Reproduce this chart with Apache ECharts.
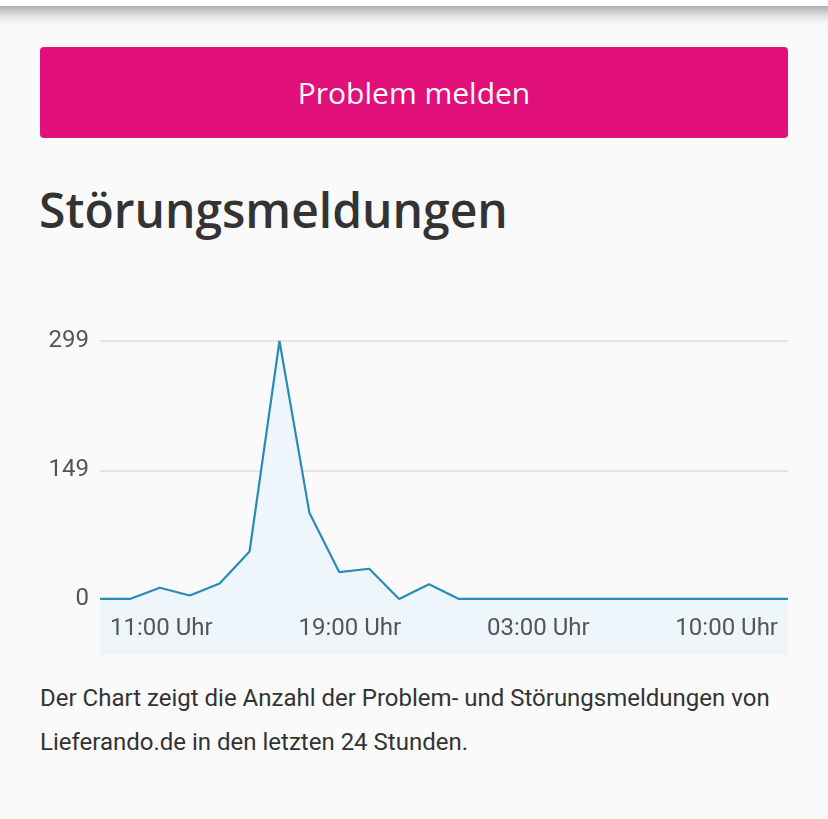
<!DOCTYPE html>
<html><head><meta charset="utf-8">
<script src="https://cdn.jsdelivr.net/npm/echarts@6/dist/echarts.min.js"></script>
<style>
html,body{margin:0;padding:0;background:#fafafa;width:828px;height:819px;overflow:hidden;position:relative;font-family:Roboto,"Noto Sans",sans-serif;}
#hdr{position:absolute;left:-20px;top:-30px;width:868px;height:36px;background:#fff;box-shadow:0 5px 16px rgba(0,0,0,0.4);}
#btn{position:absolute;left:40px;top:47px;width:748px;height:91px;background:#e1107a;border-radius:4px;color:#fff;font-family:"Open Sans",sans-serif;font-size:30px;line-height:91px;text-align:center;}
#ttl{position:absolute;left:39px;top:178px;margin:0;font-family:"Open Sans",sans-serif;font-weight:600;font-size:48px;line-height:64px;color:#333;}
#chart{position:absolute;left:0;top:300px;width:828px;height:370px;}
#cap{position:absolute;left:40px;top:676px;width:780px;font-size:24px;line-height:44px;color:#333;}
</style></head>
<body>
<div id="hdr"></div>
<div id="btn">Problem melden</div>
<h1 id="ttl">Störungsmeldungen</h1>
<div id="chart"></div>
<div id="cap">Der Chart zeigt die Anzahl der Problem- und Störungsmeldungen von<br>Lieferando.de in den letzten 24 Stunden.</div>
<script>
// 24 hourly report counts
const reports = [0, 0, 13, 4, 18, 55, 299, 100, 31, 35, 0, 17, 0, 0, 0, 0, 0, 0, 0, 0, 0, 0, 0, 0];
// x-axis tick labels and where they sit along the 24-point index scale
const xTickLabels = ['11:00 Uhr', '19:00 Uhr', '03:00 Uhr', '10:00 Uhr'];
const xTickAt = [2.05, 8.35, 14.65, 20.95];
// y-axis tick values
const yTicks = [0, 149, 299];

const chart = echarts.init(document.getElementById('chart'));
chart.setOption({
  animation: false,
  grid: {left: 100, right: 40, top: 41, bottom: 15},
  xAxis: {
    type: 'value', min: 0, max: reports.length - 1, z: 10,
    axisLine: {show: false}, axisTick: {show: false}, splitLine: {show: false},
    axisLabel: {
      inside: true, margin: 14, color: '#555', fontSize: 24, fontFamily: 'Roboto',
      customValues: xTickAt, hideOverlap: false,
      formatter: v => { const i = xTickAt.findIndex(p => Math.abs(p - v) < 0.01); return i >= 0 ? xTickLabels[i] : ''; }
    }
  },
  yAxis: {
    type: 'value', min: -65, max: 299,
    axisLine: {show: false},
    axisTick: {show: false, customValues: yTicks},
    axisLabel: {customValues: yTicks, color: '#555', fontSize: 24, fontFamily: 'Roboto', margin: 11},
    splitLine: {show: true, lineStyle: {color: '#dcdcdc', width: 1.5}}
  },
  series: [{
    type: 'line',
    data: reports.map((v, i) => [i, v]),
    symbol: 'none',
    lineStyle: {color: '#2a8ab8', width: 2.2},
    itemStyle: {color: '#2a8ab8'},
    areaStyle: {color: '#eef6fb', opacity: 1, origin: 'start'}
  }]
});
</script>
</body></html>
